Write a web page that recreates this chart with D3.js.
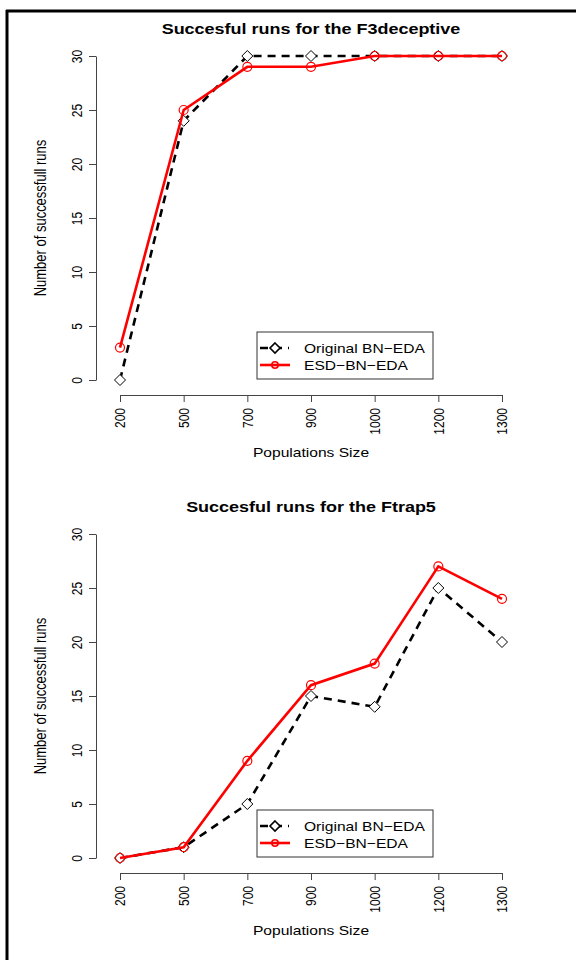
<!DOCTYPE html>
<html>
<head>
<meta charset="utf-8">
<script src="https://cdn.jsdelivr.net/npm/d3@7"></script>
<style>
  html, body { margin: 0; padding: 0; background: #fff; }
  svg { display: block; font-family: "Liberation Sans", Arial, Helvetica, sans-serif; }
</style>
</head>
<body>
<svg id="chart" width="576" height="960"></svg>
<script>
const populations = ["200", "500", "700", "900", "1000", "1200", "1300"];
const yTicks = [0, 5, 10, 15, 20, 25, 30];
const seriesNames = ["Original BN\u2212EDA", "ESD\u2212BN\u2212EDA"];

const f3Original = [0, 24, 30, 30, 30, 30, 30];
const f3ESD = [3, 25, 29, 29, 30, 30, 30];
const trapOriginal = [0, 1, 5, 15, 14, 25, 20];
const trapESD = [0, 1, 9, 16, 18, 27, 24];

const titles = ["Succesful runs for the F3deceptive", "Succesful runs for the Ftrap5"];
const xTitle = "Populations Size";
const yTitle = "Number of successfull runs";

const SX = 1.2; // horizontal stretch of the original raster

const svg = d3.select("#chart");

// outer frame (top and left edges visible)
svg.append("line").attr("x1", 6).attr("x2", 576).attr("y1", 11).attr("y2", 11)
  .attr("stroke", "#000").attr("stroke-width", 3);
svg.append("line").attr("x1", 7).attr("x2", 7).attr("y1", 10).attr("y2", 960)
  .attr("stroke", "#000").attr("stroke-width", 3);

const diamond = r => `M0,${-r}L${r},0L0,${r}L${-r},0Z`;

function panel(offsetY, title, orig, esd) {
  const g = svg.append("g").attr("transform", `translate(0,${offsetY})`);
  const x = d3.scalePoint().domain(populations).range([120, 502]);
  const y = d3.scaleLinear().domain([0, 30]).range([380, 56]);

  g.append("text").attr("transform", `translate(311,34) scale(${SX},1)`).attr("text-anchor", "middle")
    .attr("font-weight", "bold").attr("font-size", 15).text(title);

  // y axis
  const yAxis = g.append("g").attr("transform", "translate(96,0)")
    .call(d3.axisLeft(y).tickValues(yTicks).tickSize(7).tickSizeOuter(0).tickFormat(d3.format("d")));
  yAxis.select(".domain").attr("stroke", "#444");
  yAxis.selectAll(".tick line").attr("stroke", "#444");
  yAxis.selectAll(".tick text").attr("font-size", 12).attr("fill", "#000")
    .attr("x", 0).attr("dy", null).attr("text-anchor", "middle")
    .attr("dominant-baseline", "central")
    .attr("transform", `translate(-19,0) scale(${SX},1) rotate(-90)`);

  // x axis
  const xAxis = g.append("g").attr("transform", "translate(0,395)")
    .call(d3.axisBottom(x).tickSize(7).tickSizeOuter(0));
  xAxis.select(".domain").attr("stroke", "#444");
  xAxis.selectAll(".tick line").attr("stroke", "#444");
  xAxis.selectAll(".tick text").attr("font-size", 12).attr("fill", "#000")
    .attr("y", 0).attr("dy", null).attr("text-anchor", "end")
    .attr("dominant-baseline", "central")
    .attr("transform", `translate(0,13) scale(${SX},1) rotate(-90)`);

  g.append("text").attr("transform", `translate(311,457) scale(${SX},1)`).attr("text-anchor", "middle")
    .attr("font-size", 13).text(xTitle);
  g.append("text").attr("transform", `translate(46,218) scale(${SX},1) rotate(-90)`)
    .attr("text-anchor", "middle").attr("font-size", 13).text(yTitle);

  const line = d3.line().x((d, i) => x(populations[i])).y(d => y(d));

  g.append("path").datum(orig).attr("d", line).attr("fill", "none")
    .attr("stroke", "#000").attr("stroke-width", 2.6).attr("stroke-dasharray", "8,6");
  g.selectAll(".dia").data(orig).enter().append("path")
    .attr("transform", (d, i) => `translate(${x(populations[i])},${y(d)})`)
    .attr("d", diamond(5.5)).attr("fill", "#fff").attr("stroke", "#000").attr("stroke-width", 1);

  g.append("path").datum(esd).attr("d", line).attr("fill", "none")
    .attr("stroke", "#f00").attr("stroke-width", 2.6);
  g.selectAll(".circ").data(esd).enter().append("circle")
    .attr("cx", (d, i) => x(populations[i])).attr("cy", d => y(d)).attr("r", 4.5)
    .attr("fill", "none").attr("stroke", "#f00").attr("stroke-width", 1.2);

  // legend
  const lg = g.append("g").attr("transform", "translate(257,332)");
  lg.append("rect").attr("width", 176).attr("height", 47).attr("fill", "#fff")
    .attr("stroke", "#333").attr("stroke-width", 1);
  lg.append("line").attr("x1", 3).attr("x2", 32).attr("y1", 16).attr("y2", 16)
    .attr("stroke", "#000").attr("stroke-width", 2.6).attr("stroke-dasharray", "8,6");
  lg.append("path").attr("transform", "translate(18,16)").attr("d", diamond(5))
    .attr("fill", "#fff").attr("stroke", "#000").attr("stroke-width", 1.6);
  lg.append("line").attr("x1", 3).attr("x2", 33).attr("y1", 33).attr("y2", 33)
    .attr("stroke", "#f00").attr("stroke-width", 2.6);
  lg.append("circle").attr("cx", 18).attr("cy", 33).attr("r", 3.2)
    .attr("fill", "none").attr("stroke", "#f00").attr("stroke-width", 1.6);
  lg.append("text").attr("transform", `translate(47,16) scale(${SX},1)`).attr("dominant-baseline", "central")
    .attr("font-size", 13).text(seriesNames[0]);
  lg.append("text").attr("transform", `translate(47,33) scale(${SX},1)`).attr("dominant-baseline", "central")
    .attr("font-size", 13).text(seriesNames[1]);
}

panel(0, titles[0], f3Original, f3ESD);
panel(478, titles[1], trapOriginal, trapESD);
</script>
</body>
</html>
